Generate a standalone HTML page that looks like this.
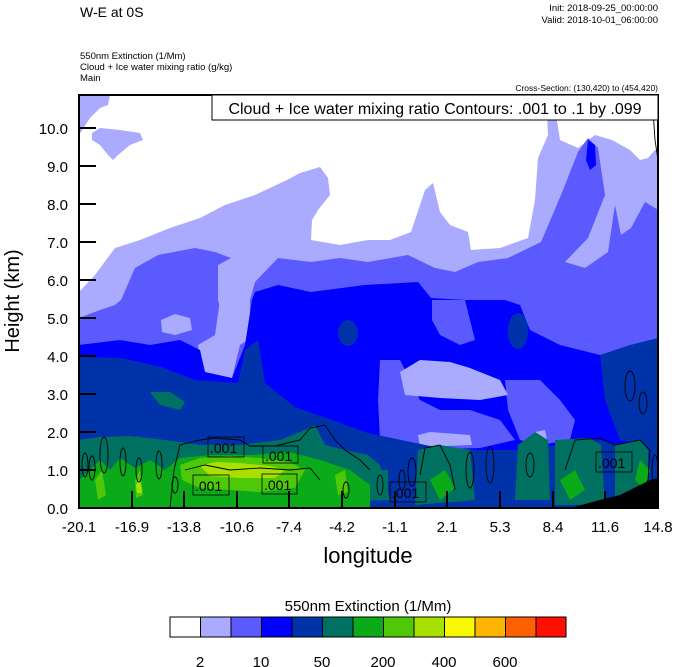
<!DOCTYPE html>
<html><head><meta charset="utf-8"><style>
html,body{margin:0;padding:0;background:#fff;}
svg{display:block;font-family:"Liberation Sans",Arial,sans-serif;}
</style></head><body>
<svg width="674" height="667" viewBox="0 0 674 667" xmlns="http://www.w3.org/2000/svg">
<defs><clipPath id="pc"><rect x="79" y="95" width="579" height="413"/></clipPath></defs>
<text x="80" y="17" font-size="14">W-E at 0S</text>
<text x="658" y="11" font-size="9.5" text-anchor="end">Init: 2018-09-25_00:00:00</text>
<text x="658" y="23" font-size="9.5" text-anchor="end">Valid: 2018-10-01_06:00:00</text>
<text x="80" y="59" font-size="9.5">550nm Extinction   (1/Mm)</text>
<text x="80" y="70" font-size="9.5">Cloud + Ice water mixing ratio   (g/kg)</text>
<text x="80" y="81" font-size="9.5">Main</text>
<text x="658" y="91" font-size="8.5" text-anchor="end">Cross-Section: (130,420) to (454,420)</text>
<g clip-path="url(#pc)">
<rect x="79" y="95" width="579" height="413" fill="#fff"/>
<path fill="#aaaaff" d="M79,292 L95,275 L115,248 L140,240 L170,228 L200,218 L225,205 L255,195 L287,180 L300,173 L320,167 L328,178 L330,195 L318,210 L312,220 L311,240 L340,245 L368,240 L390,240 L411,232 L425,190 L433,183 L440,212 L450,225 L468,232 L471,250 L500,248 L528,238 L535,200 L538,158 L548,135 L546,95 L553,95 L560,140 L578,148 L595,135 L612,140 L630,150 L640,160 L648,158 L655,150 L658,150 L658,508 L79,508 Z"/>
<path fill="#aaaaff" d="M79,95 L110,95 L108,105 L100,108 L90,118 L79,135 Z M92,133 L100,128 L120,130 L140,133 L143,140 L130,145 L118,155 L113,160 L108,155 L100,145 L92,140 Z"/>
<path fill="#5a5aff" d="M79,335 L79,318 L100,310 L115,305 L121,300 L135,268 L158,255 L195,248 L215,252 L231,258 L218,265 L218,300 L225,330 L232,345 L250,338 L250,300 L255,282 L278,258 L311,262 L340,258 L368,262 L408,255 L435,268 L455,272 L478,262 L508,258 L541,242 L561,195 L578,152 L588,138 L598,148 L605,195 L588,238 L565,262 L585,268 L608,252 L615,205 L621,235 L631,228 L645,202 L655,208 L658,210 L658,508 L79,508 Z"/>
<path fill="#aaaaff" d="M161,320 L175,314 L190,318 L192,330 L175,335 L162,332 Z M220,300 L245,300 L248,340 L240,345 L232,378 L218,380 L200,370 L198,345 L215,335 Z M79,300 L98,300 L95,310 L79,312 Z"/>
<path fill="#0000ff" d="M79,345 L120,340 L150,345 L180,340 L200,350 L205,372 L232,378 L245,345 L252,300 L255,292 L278,285 L311,292 L365,285 L418,282 L431,298 L465,300 L505,300 L520,305 L530,330 L560,345 L600,355 L640,345 L658,340 L658,508 L79,508 Z"/>
<path fill="#0000ff" d="M588,140 L595,145 L596,165 L590,170 L586,160 Z"/>
<path fill="#5a5aff" d="M432,300 L465,300 L470,320 L475,340 L460,345 L440,335 L432,320 Z M505,380 L540,380 L560,400 L575,420 L570,440 L540,445 L520,440 L508,410 Z M380,360 L400,360 L420,400 L440,410 L470,410 L500,420 L515,440 L480,448 L420,450 L380,440 L378,400 Z"/>
<path fill="#aaaaff" d="M400,372 L420,360 L450,362 L470,368 L500,380 L508,395 L480,400 L440,398 L405,395 Z M418,435 L430,432 L470,435 L472,445 L420,447 Z M535,432 L545,430 L548,445 L536,446 Z"/>
<path fill="#0033aa" d="M79,357 L121,358 L161,367 L195,380 L238,383 L245,350 L258,340 L265,383 L295,407 L368,433 L435,447 L480,450 L520,450 L560,445 L600,440 L620,445 L658,440 L658,508 L79,508 Z"/>
<path fill="#0033aa" d="M600,355 L630,345 L658,338 L658,445 L620,440 L605,400 Z"/>
<ellipse cx="518" cy="331" rx="10" ry="18" fill="#0033aa"/>
<ellipse cx="348" cy="333" rx="10" ry="13" fill="#0033aa"/>
<path fill="#007060" d="M150,392 L170,392 L185,402 L180,410 L160,405 Z"/>
<path fill="#007060" d="M79,440 L100,437 L130,436 L165,440 L200,445 L240,445 L280,440 L300,432 L315,425 L325,445 L345,450 L368,455 L380,465 L390,500 L79,508 Z"/>
<path fill="#007060" d="M418,450 L440,445 L470,450 L475,500 L415,505 Z M518,445 L535,432 L548,440 L550,500 L515,500 Z M555,440 L590,438 L601,445 L605,505 L555,505 Z M615,445 L640,440 L648,450 L648,500 L615,500 Z M368,470 L388,470 L388,500 L368,500 Z"/>
<path fill="#0aaa18" d="M79,480 L90,470 L100,460 L110,470 L120,458 L135,468 L150,460 L165,470 L180,458 L210,455 L250,455 L290,452 L320,460 L350,470 L370,485 L370,508 L79,508 Z"/>
<path fill="#0aaa18" d="M430,480 L445,470 L455,488 L440,500 Z M560,480 L575,470 L585,490 L570,500 Z M640,460 L650,470 L645,490 L635,480 Z"/>
<path fill="#50c80a" d="M180,465 L200,458 L230,456 L260,458 L290,462 L305,470 L295,488 L260,492 L230,490 L200,488 L182,480 Z M95,480 L102,470 L106,495 L98,500 Z M135,480 L140,470 L143,495 L136,498 Z M335,475 L345,470 L348,492 L338,495 Z"/>
<path fill="#a8e000" d="M200,466 L215,462 L240,463 L270,466 L285,470 L275,478 L240,478 L210,476 Z M136,485 L140,480 L142,493 L137,493 Z"/>
<path fill="#000" d="M570,508 L600,500 L620,495 L640,485 L650,480 L658,478 L658,508 Z"/>
<g fill="none" stroke="#000" stroke-width="0.9">
<path d="M170,508 L174,470 L180,445 L200,440 L215,438 L240,440 L250,446 L275,446 L300,440 L310,428 L325,425 L335,440 L345,450 L360,460 L370,470"/>
<path d="M185,470 L205,465 L230,470 L260,468 L290,470 L310,468 L320,480"/>
<path d="M565,470 L575,440 L600,438 L615,445 L640,440 L650,450 L648,480 L640,495"/>
<path d="M420,475 L425,448 L440,445 L450,465 L455,490"/>
<ellipse cx="85" cy="465" rx="3" ry="12"/><ellipse cx="92" cy="468" rx="3" ry="12"/>
<ellipse cx="104" cy="455" rx="4" ry="18"/><ellipse cx="123" cy="462" rx="3" ry="14"/>
<ellipse cx="139" cy="470" rx="3" ry="12"/><ellipse cx="159" cy="465" rx="3" ry="14"/>
<ellipse cx="175" cy="485" rx="3" ry="8"/><ellipse cx="346" cy="490" rx="3" ry="8"/>
<ellipse cx="380" cy="485" rx="3" ry="10"/><ellipse cx="402" cy="480" rx="3" ry="10"/>
<ellipse cx="412" cy="472" rx="4" ry="14"/><ellipse cx="470" cy="470" rx="4" ry="18"/>
<ellipse cx="490" cy="465" rx="4" ry="18"/><ellipse cx="530" cy="465" rx="4" ry="12"/>
<ellipse cx="630" cy="386" rx="5" ry="15"/><ellipse cx="643" cy="403" rx="4" ry="11"/>
<ellipse cx="655" cy="470" rx="3" ry="15"/>
<path d="M652,95 L655,140 L658,160"/>
</g>
<g font-size="14" fill="#000">
<rect x="208" y="437" width="36" height="20" fill="none" stroke="#000" stroke-width="0.8"/><text x="210" y="453">.001</text>
<rect x="263" y="446" width="35" height="17" fill="none" stroke="#000" stroke-width="0.8"/><text x="265" y="461">.001</text>
<rect x="193" y="475" width="36" height="20" fill="none" stroke="#000" stroke-width="0.8"/><text x="195" y="491">.001</text>
<rect x="262" y="474" width="35" height="20" fill="none" stroke="#000" stroke-width="0.8"/><text x="264" y="490">.001</text>
<rect x="390" y="482" width="36" height="20" fill="none" stroke="#000" stroke-width="0.8"/><text x="392" y="498">.001</text>
<rect x="596" y="452" width="36" height="20" fill="none" stroke="#000" stroke-width="0.8"/><text x="598" y="468">.001</text>
</g>
</g>
<rect x="79" y="95" width="579" height="413" fill="none" stroke="#000" stroke-width="2"/>
<rect x="212" y="95" width="446" height="25" fill="#fff" stroke="#000" stroke-width="1"/>
<text x="435" y="114" font-size="16" text-anchor="middle">Cloud + Ice water mixing ratio Contours: .001 to .1 by .099</text>
<g stroke="#000" stroke-width="2">
<line x1="79" y1="508" x2="96" y2="508"/><line x1="79" y1="470" x2="96" y2="470"/><line x1="79" y1="432" x2="96" y2="432"/><line x1="79" y1="394" x2="96" y2="394"/><line x1="79" y1="356" x2="96" y2="356"/><line x1="79" y1="318" x2="96" y2="318"/><line x1="79" y1="280" x2="96" y2="280"/><line x1="79" y1="242" x2="96" y2="242"/><line x1="79" y1="204" x2="96" y2="204"/><line x1="79" y1="166" x2="96" y2="166"/><line x1="79" y1="128" x2="96" y2="128"/>
<line x1="132" y1="508" x2="132" y2="491"/><line x1="184" y1="508" x2="184" y2="491"/><line x1="237" y1="508" x2="237" y2="491"/><line x1="289" y1="508" x2="289" y2="491"/><line x1="342" y1="508" x2="342" y2="491"/><line x1="395" y1="508" x2="395" y2="491"/><line x1="447" y1="508" x2="447" y2="491"/><line x1="500" y1="508" x2="500" y2="491"/><line x1="553" y1="508" x2="553" y2="491"/><line x1="605" y1="508" x2="605" y2="491"/>
</g>
<g font-size="15" text-anchor="end">
<text x="68" y="514">0.0</text><text x="68" y="476">1.0</text><text x="68" y="438">2.0</text><text x="68" y="400">3.0</text><text x="68" y="362">4.0</text><text x="68" y="324">5.0</text><text x="68" y="286">6.0</text><text x="68" y="248">7.0</text><text x="68" y="210">8.0</text><text x="68" y="172">9.0</text><text x="68" y="134">10.0</text>
</g>
<g font-size="15" text-anchor="middle">
<text x="79" y="532">-20.1</text><text x="132" y="532">-16.9</text><text x="184" y="532">-13.8</text><text x="237" y="532">-10.6</text><text x="289" y="532">-7.4</text><text x="342" y="532">-4.2</text><text x="395" y="532">-1.1</text><text x="447" y="532">2.1</text><text x="500" y="532">5.3</text><text x="553" y="532">8.4</text><text x="605" y="532">11.6</text><text x="658" y="532">14.8</text>
</g>
<text x="368" y="563" font-size="22" text-anchor="middle">longitude</text>
<text transform="translate(19,301) rotate(-90)" font-size="20" text-anchor="middle">Height (km)</text>
<text x="368" y="611" font-size="15" text-anchor="middle">550nm Extinction  (1/Mm)</text>
<g stroke="#000" stroke-width="1">
<rect x="170" y="617" width="30.5" height="20" fill="#fff"/>
<rect x="200.5" y="617" width="30.5" height="20" fill="#aaaaff"/>
<rect x="231" y="617" width="30.5" height="20" fill="#5a5aff"/>
<rect x="261.5" y="617" width="30.5" height="20" fill="#0000ff"/>
<rect x="292" y="617" width="30.5" height="20" fill="#0033aa"/>
<rect x="322.5" y="617" width="30.5" height="20" fill="#007060"/>
<rect x="353" y="617" width="30.5" height="20" fill="#0aaa18"/>
<rect x="383.5" y="617" width="30.5" height="20" fill="#50c80a"/>
<rect x="414" y="617" width="30.5" height="20" fill="#a8e000"/>
<rect x="444.5" y="617" width="30.5" height="20" fill="#f8f800"/>
<rect x="475" y="617" width="30.5" height="20" fill="#ffb400"/>
<rect x="505.5" y="617" width="30.5" height="20" fill="#ff6000"/>
<rect x="536" y="617" width="30" height="20" fill="#ff1000"/>
</g>
<g font-size="15" text-anchor="middle">
<text x="200" y="667">2</text><text x="261" y="667">10</text><text x="322" y="667">50</text><text x="383" y="667">200</text><text x="444" y="667">400</text><text x="505" y="667">600</text>
</g>
</svg>
</body></html>
